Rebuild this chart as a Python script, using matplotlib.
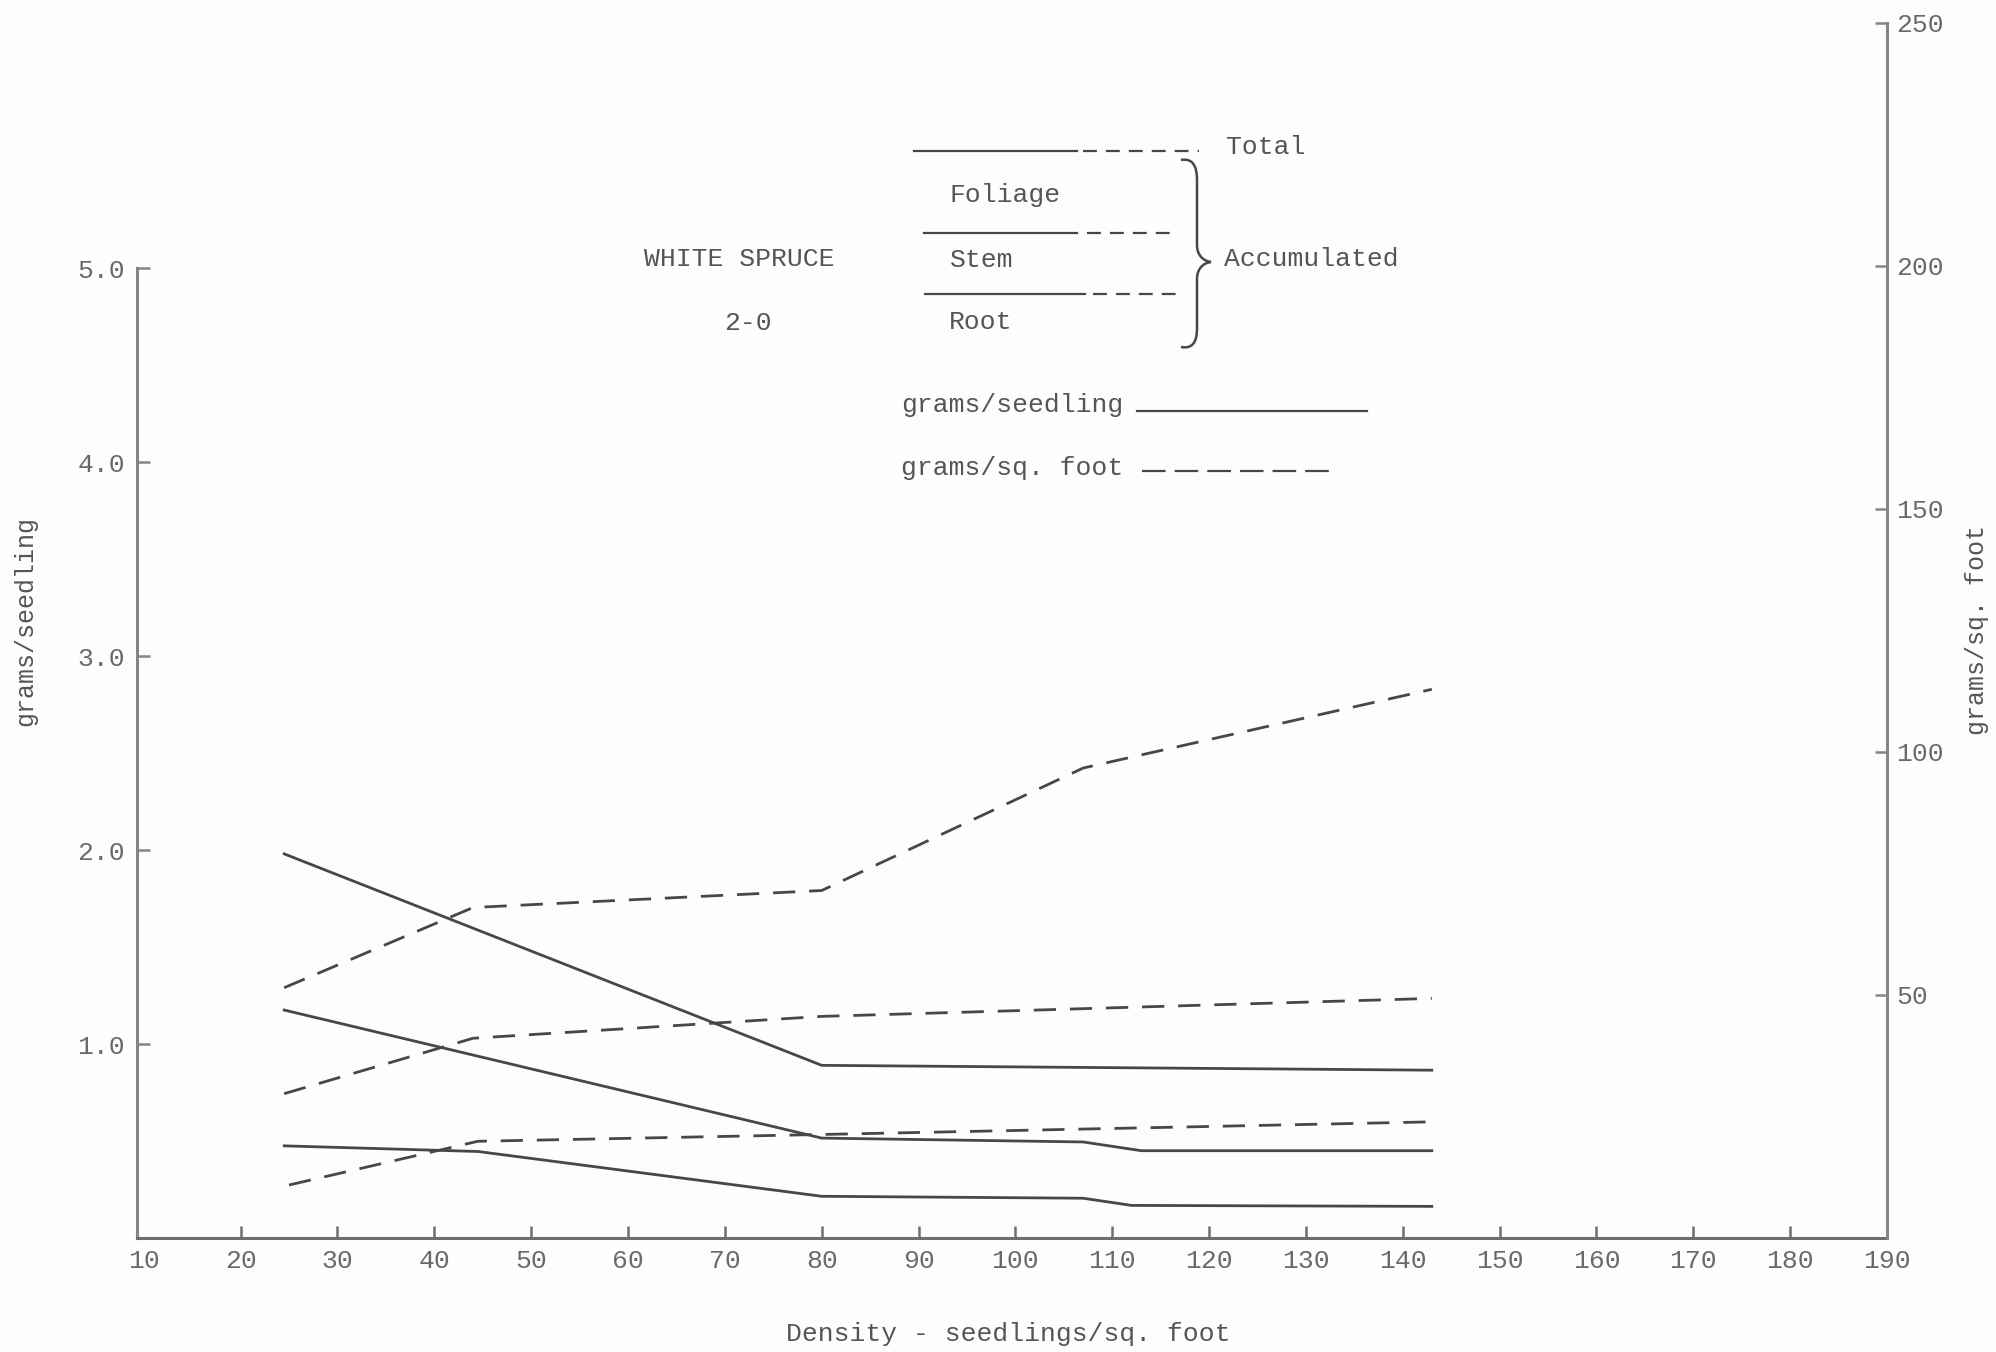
import matplotlib
matplotlib.use("Agg")
import matplotlib.pyplot as plt
from matplotlib.lines import Line2D
from matplotlib.path import Path
from matplotlib.patches import PathPatch

# ---------------- data ----------------
# grams/seedling (left axis, solid lines)
x_total_seedling = [24.5, 80, 143]
total_seedling = [1.98, 0.89, 0.865]
x_stem_seedling = [24.5, 80, 107, 113, 143]
stem_seedling = [1.175, 0.515, 0.495, 0.45, 0.45]
x_root_seedling = [24.5, 44.5, 80, 107, 112, 143]
root_seedling = [0.475, 0.446, 0.215, 0.205, 0.168, 0.163]

# grams/sq. foot (right axis, dashed lines)
x_total_sqft = [24.5, 44, 80, 107, 143]
total_sqft = [51.5, 68.0, 71.5, 96.7, 112.9]
x_stem_sqft = [24.5, 44, 80, 143]
stem_sqft = [29.7, 41.1, 45.6, 49.3]
x_root_sqft = [25, 44.5, 80, 143]
root_sqft = [10.9, 19.9, 21.3, 23.9]

x_ticks = list(range(20, 200, 10))
left_ticks = [1.0, 2.0, 3.0, 4.0, 5.0]
left_ticklabels = ["1.0", "2.0", "3.0", "4.0", "5.0"]
right_ticks = [50, 100, 150, 200, 250]
right_ticklabels = ["50", "100", "150", "200", "250"]

# ---------------- style ----------------
W, H = 1996, 1352
FONT = ["Liberation Mono", "DejaVu Sans Mono"]
TXT = "#555555"
TICKTXT = "#6a6a6a"
LINE = "#474747"
AXC = "#858585"
FS = 19
plt.rcParams["font.family"] = FONT
plt.rcParams["lines.scale_dashes"] = False

fig = plt.figure(figsize=(W / 100, H / 100), dpi=100)
fig.patch.set_facecolor("#fdfdfb")


def P(x, y):
    return (x / W, 1 - y / H)


ax_left, ax_right, ax_bot, ax_top = 137, 1887, 1238, 23
ax = fig.add_axes([ax_left / W, 1 - ax_bot / H, (ax_right - ax_left) / W, (ax_bot - ax_top) / H])
ax.set_facecolor("none")
ax2 = ax.twinx()

ax.set_xlim(9.3, 190)
ax.set_ylim(0, (ax_bot - ax_top) / 194.0)
ax2.set_ylim(0, 250)

lw = 2.0
ax.plot(x_total_seedling, total_seedling, color=LINE, lw=lw, solid_joinstyle="round")
ax.plot(x_stem_seedling, stem_seedling, color=LINE, lw=lw, solid_joinstyle="round")
ax.plot(x_root_seedling, root_seedling, color=LINE, lw=lw, solid_joinstyle="round")
dash = (0, (16, 10))
ax2.plot(x_total_sqft, total_sqft, color=LINE, lw=lw, linestyle=dash)
ax2.plot(x_stem_sqft, stem_sqft, color=LINE, lw=lw, linestyle=dash)
ax2.plot(x_root_sqft, root_sqft, color=LINE, lw=lw, linestyle=dash)

# spines
for s in ["top", "right"]:
    ax.spines[s].set_visible(False)
for s in ["top", "left", "bottom"]:
    ax2.spines[s].set_visible(False)
ax.spines["left"].set_bounds(0, 5)
ax.spines["left"].set_color(AXC)
ax.spines["left"].set_linewidth(2.2)
ax.spines["bottom"].set_color("#6e6e6e")
ax.spines["bottom"].set_linewidth(2.2)
ax2.spines["right"].set_color(AXC)
ax2.spines["right"].set_linewidth(2.2)

# ticks
ax.set_xticks(x_ticks)
ax.set_xticklabels([str(t) for t in x_ticks])
ax.set_xticks([10], minor=True)
ax.set_xticklabels(["10"], minor=True)
ax.tick_params(axis="x", which="both", direction="in", length=9, width=1.8,
               color="#6e6e6e", pad=8, labelsize=FS, labelcolor=TICKTXT)
ax.tick_params(axis="x", which="minor", length=0)
ax.set_yticks(left_ticks)
ax.set_yticklabels(left_ticklabels)
ax.tick_params(axis="y", direction="in", length=9, width=1.8, color=AXC,
               pad=8.5, labelsize=FS, labelcolor=TICKTXT)
ax2.set_yticks(right_ticks)
ax2.set_yticklabels(right_ticklabels)
ax2.tick_params(axis="y", direction="in", length=9, width=1.8, color=AXC,
                pad=6.5, labelsize=FS, labelcolor=TICKTXT)

# axis labels
fig.text(*P(25, 621), "grams/seedling", rotation=90, ha="center", va="center",
         fontsize=FS - 1, color=TXT)
fig.text(*P(1977, 630), "grams/sq. foot", rotation=90, ha="center", va="center",
         fontsize=FS - 1, color=TXT)
fig.text(*P(1008, 1334), "Density - seedlings/sq. foot", ha="center", va="center",
         fontsize=FS, color=TXT)

# annotation / key
def txt(x, y, s, ha="left"):
    fig.text(*P(x, y), s, ha=ha, va="center", fontsize=FS, color=TXT)


def hline(x0, x1, y, ls="-", lw=1.6):
    a, b = P(x0, y), P(x1, y)
    fig.add_artist(Line2D([a[0], b[0]], [a[1], b[1]], transform=fig.transFigure,
                          color=LINE, lw=lw, linestyle=ls))


txt(1226, 147, "Total")
txt(949, 195, "Foliage")
txt(950, 260, "Stem")
txt(949, 322, "Root")
txt(739, 259, "WHITE SPRUCE", ha="center")
txt(748, 323, "2-0", ha="center")
txt(1224, 259, "Accumulated")
txt(901, 405, "grams/seedling")
txt(901, 468, "grams/sq. foot")

short = (0, (10, 6.5))
hline(914, 1077, 151)
hline(1083, 1199, 151, ls=short)
hline(924, 1077, 233)
hline(1087, 1172, 233, ls=short)
hline(925, 1085, 294)
hline(1093, 1180, 294, ls=short)
hline(1137, 1367, 411)
hline(1142, 1332, 471, ls=(0, (17, 6.5)))

# curly brace
pts = [(1181, 160), (1192, 158), (1197, 165), (1197, 180),
       (1197, 245),
       (1197, 255), (1203, 261), (1211, 262),
       (1203, 263), (1197, 269), (1197, 279),
       (1197, 328),
       (1197, 343), (1192, 349), (1181, 347)]
codes = [Path.MOVETO, Path.CURVE4, Path.CURVE4, Path.CURVE4,
         Path.LINETO,
         Path.CURVE4, Path.CURVE4, Path.CURVE4,
         Path.CURVE4, Path.CURVE4, Path.CURVE4,
         Path.LINETO,
         Path.CURVE4, Path.CURVE4, Path.CURVE4]
brace = Path([P(x, y) for x, y in pts], codes)
fig.add_artist(PathPatch(brace, transform=fig.transFigure, fill=False,
                         edgecolor=LINE, lw=1.8))

fig.savefig("out.png", dpi=100, facecolor=fig.get_facecolor())
